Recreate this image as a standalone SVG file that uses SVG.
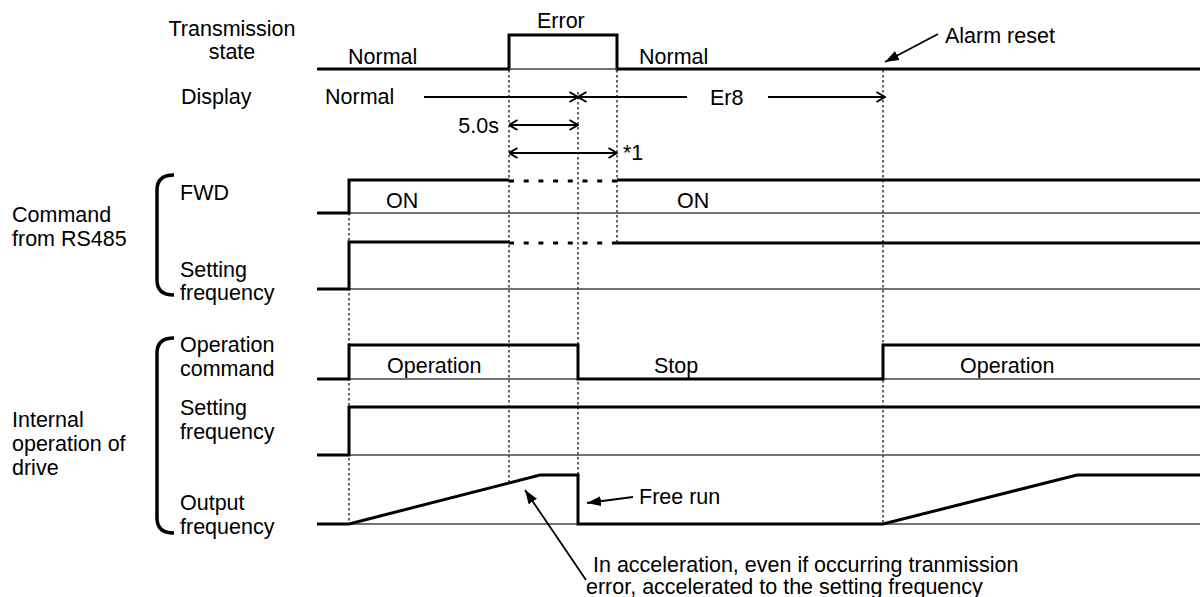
<svg xmlns="http://www.w3.org/2000/svg" width="1200" height="597" viewBox="0 0 1200 597">
<style>
text{font-family:"Liberation Sans",Arial,sans-serif;font-size:21.5px;fill:#000}
.sig{fill:none;stroke:#000;stroke-width:3;stroke-linejoin:miter}
.base{fill:none;stroke:#444;stroke-width:1.5}
.dash{fill:none;stroke:#000;stroke-width:3;stroke-dasharray:5 9.7}
.dot{fill:none;stroke:#000;stroke-width:1.2;stroke-dasharray:2.5 2.5}
.arr{fill:none;stroke:#000;stroke-width:1.8}
.brk{fill:none;stroke:#000;stroke-width:3.5}
</style>
<defs>
<marker id="open" viewBox="0 0 10 12" refX="9.5" refY="6" markerWidth="10" markerHeight="12" markerUnits="userSpaceOnUse" orient="auto-start-reverse">
<path d="M1,1 L9.5,6 L1,11" fill="none" stroke="#000" stroke-width="2"/>
</marker>
<marker id="fill" viewBox="0 0 14 10" refX="14" refY="5" markerWidth="14" markerHeight="10" markerUnits="userSpaceOnUse" orient="auto">
<path d="M0,0 L14,5 L0,10 z" fill="#000"/>
</marker>
</defs>

<g id="labels">
<text x="232" y="36" text-anchor="middle">Transmission</text>
<text x="232" y="59" text-anchor="middle">state</text>
<text x="181" y="104">Display</text>
<text x="12" y="222">Command</text>
<text x="12" y="246">from RS485</text>
<text x="12" y="427">Internal</text>
<text x="12" y="451">operation of</text>
<text x="12" y="475">drive</text>
<path class="brk" d="M174,175 Q157,175 157,190 L157,280 Q157,295 174,295"/>
<path class="brk" d="M174,338 Q157,338 157,353 L157,518 Q157,533 174,533"/>
<text x="180" y="200">FWD</text>
<text x="180" y="277">Setting</text>
<text x="180" y="300">frequency</text>
<text x="180" y="352">Operation</text>
<text x="180" y="376">command</text>
<text x="180" y="415">Setting</text>
<text x="180" y="439">frequency</text>
<text x="180" y="510">Output</text>
<text x="180" y="534">frequency</text>
</g>

<g id="guides">
<line class="dot" x1="349" y1="213" x2="349" y2="524"/>
<line class="dot" x1="509" y1="70" x2="509" y2="483"/>
<line class="dot" x1="578" y1="92" x2="578" y2="475"/>
<line class="dot" x1="617" y1="70" x2="617" y2="243"/>
<line class="dot" x1="883" y1="70" x2="883" y2="524"/>
</g>

<g id="transmission-state">
<path class="sig" d="M317,69 H509 V35 H617 V69 H1200"/>
<line class="base" x1="509" y1="69" x2="617" y2="69"/>
<text x="348" y="64">Normal</text>
<text x="537" y="28">Error</text>
<text x="639" y="64">Normal</text>
<text x="945" y="43">Alarm reset</text>
</g>

<g id="display">
<text x="325" y="104">Normal</text>
<text x="710" y="105">Er8</text>
<text x="499" y="133" text-anchor="end">5.0s</text>
<text x="623" y="160">*1</text>
</g>

<g id="fwd">
<line class="base" x1="349" y1="213" x2="1200" y2="213"/>
<path class="sig" d="M317,213 H349 V180 H509"/>
<line class="dash" x1="509" y1="181" x2="617" y2="181"/>
<path class="sig" d="M617,180 H1200"/>
<text x="386" y="208">ON</text>
<text x="677" y="208">ON</text>
</g>

<g id="rs-setting-frequency">
<line class="base" x1="349" y1="289" x2="1200" y2="289"/>
<path class="sig" d="M317,289 H349 V242 H509"/>
<line class="dash" x1="509" y1="243" x2="617" y2="243"/>
<path class="sig" d="M617,243 H1200"/>
</g>

<g id="operation-command">
<line class="base" x1="349" y1="379" x2="1200" y2="379"/>
<path class="sig" d="M317,379 H349 V345 H578 V379 H883 V345 H1200"/>
<text x="387" y="373">Operation</text>
<text x="654" y="373">Stop</text>
<text x="960" y="373">Operation</text>
</g>

<g id="internal-setting-frequency">
<line class="base" x1="349" y1="455" x2="1200" y2="455"/>
<path class="sig" d="M317,455 H349 V407 H1200"/>
</g>

<g id="output-frequency">
<line class="base" x1="349" y1="524" x2="1200" y2="524"/>
<path class="sig" d="M317,524 H349 L540,475 H578 V524 H883 L1077,475 H1200"/>
<text x="639" y="504">Free run</text>
<text x="593" y="572">In acceleration, even if occurring tranmission</text>
<text x="586" y="594">error, accelerated to the setting frequency</text>
</g>

<g id="connectors">
<line class="arr" x1="424" y1="97" x2="578" y2="97" marker-end="url(#open)"/>
<line class="arr" x1="687" y1="97" x2="578" y2="97" marker-end="url(#open)"/>
<line class="arr" x1="768" y1="97" x2="885" y2="97" marker-end="url(#open)"/>
<line class="arr" x1="509" y1="125" x2="578" y2="125" marker-start="url(#open)" marker-end="url(#open)"/>
<line class="arr" x1="509" y1="153" x2="617" y2="153" marker-start="url(#open)" marker-end="url(#open)"/>
<line class="arr" x1="938" y1="34" x2="885" y2="62" marker-end="url(#fill)"/>
<line class="arr" x1="633" y1="497" x2="587" y2="503" marker-end="url(#fill)"/>
<line class="arr" x1="586" y1="580" x2="525" y2="490" marker-end="url(#fill)"/>
</g>
</svg>
